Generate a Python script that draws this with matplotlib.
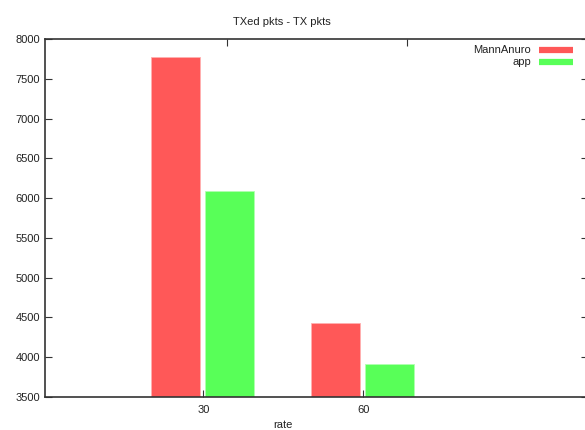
import matplotlib as mpl
import matplotlib.pyplot as plt
from matplotlib.lines import Line2D
import numpy as np

mpl.rcParams['font.family'] = 'sans-serif'
mpl.rcParams['font.sans-serif'] = ['Liberation Sans', 'DejaVu Sans']
mpl.rcParams['font.size'] = 8

# TX packet totals per rate
rates = ["30", "60"]
mann_anuro = [7770, 4430]
app = [6090, 3920]
series_names = ["MannAnuro", "app"]
colors = ["#ff5858", "#58ff58"]

W, H = 585, 430
fig = plt.figure(figsize=(W / 100, H / 100), dpi=100)
ax = fig.add_axes([45 / W, 33 / H, (588 - 45) / W, (397 - 39) / H])

x = np.arange(len(rates))
bw = 0.305
ax.bar(x - 0.172, mann_anuro, bw, color=colors[0], edgecolor="#ffb0b0", linewidth=0.6)
ax.bar(x + 0.165, app, bw, color=colors[1], edgecolor="#b0ffb0", linewidth=0.6)

ax.set_xlim(-0.99, 2.405)
ax.set_ylim(3500, 8000)
ax.set_yticks(np.arange(3500, 8001, 500))
ax.set_xticks(x)
ax.set_xticklabels(rates)

for s in ax.spines.values():
    s.set_color("#333333")
    s.set_linewidth(1.2)
ax.spines["right"].set_visible(False)
ax.tick_params(axis="y", direction="in", length=5, width=0.8, right=True, colors="#333333", labelcolor="#222222")
ax.tick_params(axis="x", direction="in", length=5, width=0.8, colors="#333333", labelcolor="#222222", pad=6)

# mirrored x2 ticks along the top border
top = ax.secondary_xaxis("top")
top.set_xticks([0.15, 1.275])
top.set_xticklabels(["", ""])
top.tick_params(direction="in", length=5, width=0.8, colors="#333333")
top.spines["top"].set_visible(False)

fig.text(282 / W, 1 - 22 / H, "TXed pkts - TX pkts", ha="center", va="center", color="#222222")
fig.text(283 / W, 1 - 425 / H, "rate", ha="center", va="center", color="#222222")

# key in the top-right corner
for i, (name, c) in enumerate(zip(series_names, colors)):
    yy = 1 - (50 + 12 * i) / H
    fig.text(531 / W, yy, name, ha="right", va="center", color="#222222")
    fig.add_artist(Line2D([539 / W, 573 / W], [yy, yy], color=c, linewidth=4.5,
                          solid_capstyle="butt", transform=fig.transFigure))

fig.savefig("out.png", dpi=100)
